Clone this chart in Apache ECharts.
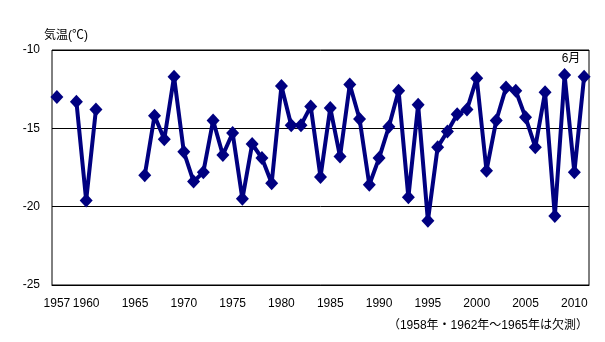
<!DOCTYPE html>
<html>
<head>
<meta charset="utf-8">
<script src="https://cdn.jsdelivr.net/npm/echarts@6/dist/echarts.min.js"></script>
<style>
html,body{margin:0;padding:0;background:#fff;}
#c{width:605px;height:342px;}
</style>
</head>
<body>
<div id="c"></div>
<script>
var years = [];
for (var y = 1957; y <= 2011; y++) years.push(String(y));

var temps = [
  -13.0, null, -13.3, -19.6, -13.8, null, null, null, null, -18.0,
  -14.2, -15.7, -11.7, -16.5, -18.4, -17.8, -14.5, -16.7, -15.3, -19.5,
  -16.0, -16.9, -18.5, -12.3, -14.8, -14.8, -13.6, -18.1, -13.7, -16.8,
  -12.2, -14.4, -18.6, -16.9, -14.9, -12.6, -19.4, -13.5, -20.9, -16.2,
  -15.2, -14.1, -13.8, -11.8, -17.7, -14.5, -12.4, -12.6, -14.3, -16.2,
  -12.7, -20.6, -11.6, -17.8, -11.7
];

var xTickLabels = ['1957', '1960', '1965', '1970', '1975', '1980', '1985', '1990', '1995', '2000', '2005', '2010'];

var yTitle = '気温(℃)';
var monthLabel = '6月';
var noteText = '（1958年・1962年～1965年は欠測）';

var FONT = '"Liberation Sans", "Noto Sans CJK JP", sans-serif';

var chart = echarts.init(document.getElementById('c'), null, {renderer: 'canvas'});
chart.setOption({
  animation: false,
  backgroundColor: '#fff',
  grid: {
    left: 52, right: 16, top: 50, bottom: 57,
    show: true, borderColor: '#000', borderWidth: 1, backgroundColor: 'transparent'
  },
  xAxis: {
    type: 'category',
    data: years,
    boundaryGap: true,
    axisLine: {show: true, lineStyle: {color: '#000', width: 1}},
    axisTick: {show: false},
    splitLine: {show: false},
    axisLabel: {
      color: '#000',
      fontSize: 12,
      fontFamily: FONT,
      margin: 13,
      interval: function (idx, val) { return xTickLabels.indexOf(val) >= 0; }
    }
  },
  yAxis: {
    type: 'value',
    min: -25, max: -10, interval: 5,
    axisLine: {show: false},
    axisTick: {show: false},
    splitLine: {show: true, lineStyle: {color: '#000', width: 1}},
    axisLabel: {color: '#000', fontSize: 12, fontFamily: FONT, margin: 12}
  },
  graphic: [
    {type: 'text', left: 44, top: 30, style: {text: yTitle, fill: '#000', font: '12px ' + FONT}},
    {type: 'text', x: 571, y: 59, style: {text: monthLabel, fill: '#000', font: '12px ' + FONT, textAlign: 'center', textVerticalAlign: 'middle'}},
    {type: 'text', right: 17, top: 320, style: {text: noteText, fill: '#000', font: '12px ' + FONT}}
  ],
  series: [{
    type: 'line',
    data: temps,
    connectNulls: false,
    lineStyle: {color: '#000080', width: 4},
    itemStyle: {color: '#000080'},
    symbol: 'diamond',
    symbolSize: [13, 14],
    showAllSymbol: true
  }]
});
</script>
</body>
</html>
